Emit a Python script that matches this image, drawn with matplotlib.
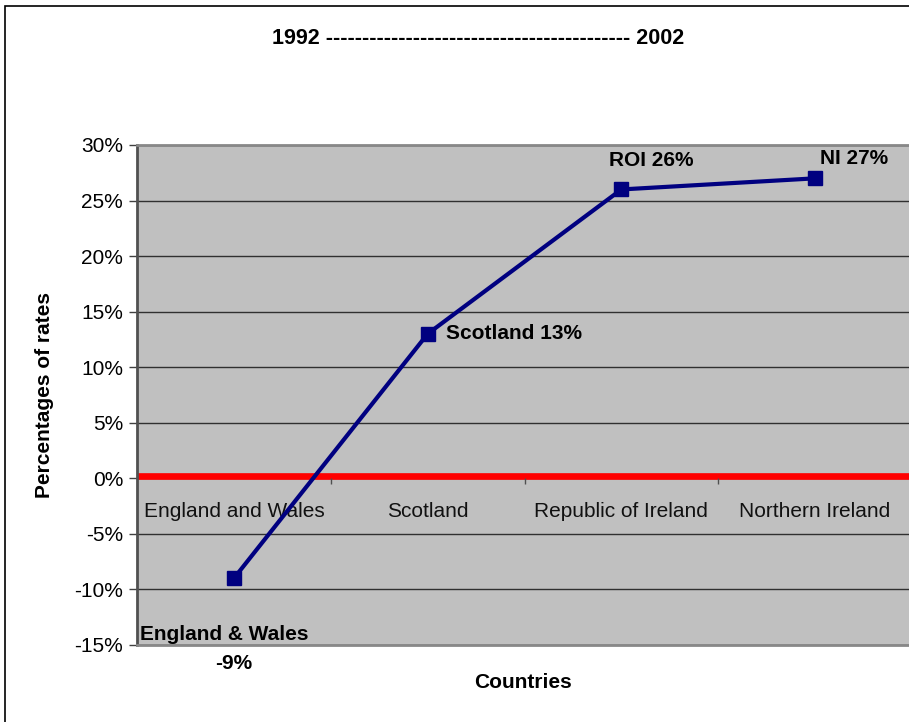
import matplotlib.pyplot as plt
from matplotlib.patches import Rectangle

plt.rcParams['font.family'] = ['Liberation Sans', 'DejaVu Sans']

countries = ["England and Wales", "Scotland", "Republic of Ireland", "Northern Ireland"]
short_names = ["England & Wales", "Scotland", "ROI", "NI"]
change = [-9, 13, 26, 27]  # % change in rates, 1992 -> 2002
yticks = [-15, -10, -5, 0, 5, 10, 15, 20, 25, 30]

x = list(range(len(countries)))
y = [v / 100 for v in change]
fs = 15

fig = plt.figure(figsize=(9.09, 7.22), dpi=100)
fig.patches.append(Rectangle((5 / 909, -0.1), 1.2, 1 - 6 / 722 + 0.1,
                             transform=fig.transFigure, fill=False,
                             edgecolor="black", linewidth=1.2))

ax = fig.add_axes([137 / 909, 77 / 722, 775 / 909, 500 / 722])
ax.set_facecolor("#C0C0C0")
ax.set_xlim(-0.5, 3.5)
ax.set_ylim(-0.15, 0.30)

ax.set_yticks([t / 100 for t in yticks])
ax.set_yticklabels([f"{t}%" for t in yticks], fontsize=fs)
ax.tick_params(axis="y", length=6, width=1, color="#404040", pad=4)
ax.set_xticks([])
ax.grid(axis="y", color="#303030", linewidth=1)
ax.set_axisbelow(True)

for s in ["top", "bottom"]:
    ax.spines[s].set_color("#888888")
    ax.spines[s].set_linewidth(2)
ax.spines["left"].set_color("#505050")
ax.spines["left"].set_linewidth(2)
ax.spines["right"].set_visible(False)

# zero line and category dividers
ax.axhline(0.0025, color="#FF0000", linewidth=4.8, zorder=2)
ax.vlines([0.5, 1.5, 2.5], -0.005, 0, color="#505050", linewidth=1, zorder=2)
for i, name in zip(x, countries):
    ax.text(i, -0.035, name, ha="center", va="baseline", fontsize=fs, color="#111111")

ax.plot(x, y, color="#000080", linewidth=3, marker="s", markersize=10, zorder=3)

bold = dict(fontsize=fs, fontweight="bold", textcoords="offset points")
ax.annotate(f"{short_names[0]}", (x[0], y[0]), xytext=(-67.5, -40.3), ha="left", va="center", **bold)
ax.annotate(f"{change[0]}%", (x[0], y[0]), xytext=(0, -61), ha="center", va="center", **bold)
ax.annotate(f"{short_names[1]} {change[1]}%", (x[1], y[1]), xytext=(13, 0), ha="left", va="center", **bold)
ax.annotate(f"{short_names[2]} {change[2]}%", (x[2], y[2]), xytext=(21.5, 21), ha="center", va="center", **bold)
ax.annotate(f"{short_names[3]} {change[3]}%", (x[3], y[3]), xytext=(28, 14.5), ha="center", va="center", **bold)

fig.text(45 / 909, 1 - 395 / 722, "Percentages of rates", rotation=90, ha="center", va="center",
         fontsize=fs, fontweight="bold")
fig.text(523 / 909, 1 - 682 / 722, "Countries", ha="center", va="center",
         fontsize=fs, fontweight="bold")
fig.text(478 / 909, 1 - 39 / 722, "1992 " + "-" * 42 + " 2002", ha="center", va="center",
         fontsize=fs + 0.5, fontweight="bold")

fig.savefig("out.png", dpi=100)
